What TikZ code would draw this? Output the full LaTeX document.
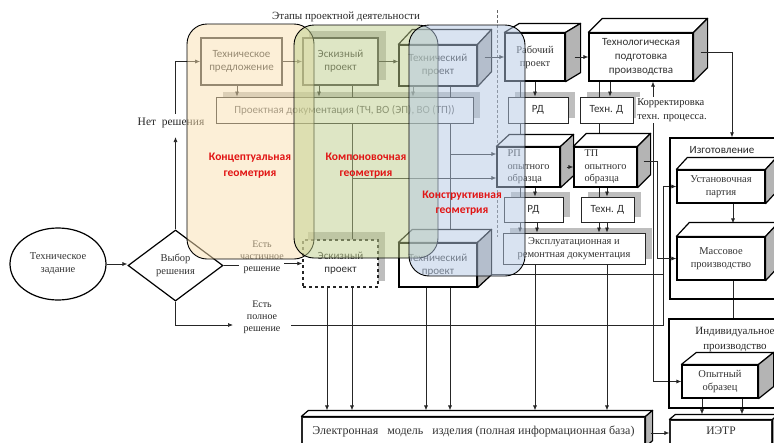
\documentclass[tikz,border=0pt]{standalone}
\usepackage{fontspec}
\setmainfont{Liberation Serif}
\newfontfamily\sansf{Carlito}
\usetikzlibrary{shapes.geometric,arrows.meta,calc}
\pgfdeclarelayer{shadowl}
\pgfdeclarelayer{bgl}
\pgfdeclarelayer{overl}
\pgfdeclarelayer{fgl}
\pgfsetlayers{shadowl,bgl,main,overl,fgl}
\definecolor{yel}{RGB}{250,224,176}
\definecolor{grn}{RGB}{190,206,140}
\definecolor{blu}{RGB}{180,200,228}
\definecolor{redt}{RGB}{225,20,20}
\definecolor{shd}{RGB}{190,190,190}
\definecolor{sidegray}{RGB}{180,180,180}
\tikzset{
  conn/.style={line width=0.7pt, draw=black!85},
  arr/.style={conn, -{Latex[length=5pt,width=4pt]}},
  darr/.style={conn, {Latex[length=5pt,width=4pt]}-{Latex[length=5pt,width=4pt]}},
  box/.style={draw=black!85, fill=white, line width=0.8pt, align=center, inner sep=1pt, text=black!80},
  thickbox/.style={box, line width=1.6pt, draw=black!80},
  cube/.style={box, line width=1.2pt, draw=black},
  outer/.style={draw=black, line width=1.4pt},
  wh/.style 2 args={minimum width=#1, minimum height=#2},
  sansT/.style={font=\sansf\fontsize{11}{13}\selectfont},
  serT/.style={font=\fontsize{10.5}{13}\selectfont},
  smallser/.style={font=\fontsize{10.3}{12.5}\selectfont},
  region/.style={draw=black, line width=0.9pt, rounded corners=20pt, fill opacity=0.5},
  redlab/.style={font=\sansf\bfseries\fontsize{11.5}{16}\selectfont, text=redt, align=center},
  lab/.style={font=\fontsize{10}{12}\selectfont, align=center, text=black!85},
}
\newcommand\mycuboid[3]{%
  \draw[line width=1.2pt, fill=white, line join=round] (#1.north west) -- ++(#2,#3) -- ([shift={(#2,#3)}]#1.north east) -- (#1.north east) -- cycle;
  \draw[line width=1.2pt, fill=sidegray, line join=round] (#1.north east) -- ([shift={(#2,#3)}]#1.north east) -- ([shift={(#2,#3)}]#1.south east) -- (#1.south east) -- cycle;}
\newcommand\myshadow[3]{\fill[shd] ([shift={(#2,#3)}]#1.south west) rectangle ([shift={(#2,#3)}]#1.north east);}
\begin{document}
\begin{tikzpicture}[x=1pt,y=-1pt]
\useasboundingbox (0,0) rectangle (774,442);

% ---------- nodes ----------
\node[font=\fontsize{11}{13}\selectfont, text=black!85] (title) at (346,17) {Этапы проектной деятельности};

\node[thickbox, wh={81}{47}, sansT] (tp) at (241.5,61.5) {Техническое\\предложение};
\node[thickbox, wh={75}{47}, sansT] (ep1) at (340.5,61.5) {Эскизный\\проект};
\node[cube, wh={78}{41}, sansT] (tpr1) at (438,65.5) {Технический\\проект};
\node[cube, wh={60}{48}, serT] (rp) at (535,57) {Рабочий\\проект};
\node[cube, wh={104}{48}, font=\sansf\fontsize{11}{14}\selectfont] (tech) at (641,57) {Технологическая\\подготовка\\производства};

\node[box, wh={257}{26}, sansT, text=black!65] (pd) at (344.5,110) {Проектная документация (ТЧ, ВО (ЭП), ВО (ТП))};
\node[box, wh={60}{26}, sansT] (rd1) at (538,110) {РД};
\node[box, wh={53}{26}, sansT] (td1) at (606.5,110) {Техн. Д};
\node[font=\fontsize{10.5}{14.5}\selectfont, align=left, fill=white, inner sep=1pt, text=black!85] (kor) at (672,110) {Корректировка\\техн. процесса.};

\node[cube, wh={63}{40}, smallser, align=left] (rpo) at (528.5,167) {РП\\опытного\\образца};
\node[cube, wh={63}{40}, smallser, align=left] (tpo) at (605.5,167) {ТП\\опытного\\образца};
\node[box, wh={59}{25}, sansT] (rd2) at (533.5,209.5) {РД};
\node[box, wh={53}{25}, sansT] (td2) at (607.5,209.5) {Техн. Д};
\node[box, wh={142}{31}, font=\fontsize{10.5}{12.5}\selectfont] (eks) at (574,248.5) {Эксплуатационная и\\ремонтная документация};

\node[box, wh={343}{29}, line width=1.2pt, font=\fontsize{12}{14}\selectfont] (elm) at (473.5,431.5) {\raisebox{3pt}{Электронная\ \ \ модель\ \ \ изделия (полная информационная база)}};
\node[box, wh={102}{26}, line width=1.2pt, font=\fontsize{11.5}{13}\selectfont] (ietr) at (721,433) {\raisebox{4pt}{ИЭТР}};

\node[outer, wh={110}{161}] (izg) at (725,218.5) {};
\node[sansT, text=black!85] (izgl) at (722,150) {Изготовление};
\node[cube, wh={88}{33}, serT] (ust) at (721,186.5) {Установочная\\партия};
\node[cube, wh={88}{43}, serT] (mass) at (721,258.5) {Массовое\\производство};
\node[outer, wh={110}{89}] (ind) at (724,363.5) {};
\node[font=\fontsize{11}{15.5}\selectfont, align=center, text=black!85] (indl) at (735,339.5) {Индивидуальное\\производство};
\node[cube, wh={76}{33}, serT] (opyt) at (720,381.5) {Опытный\\образец};

\node[ellipse, draw, line width=1.2pt, wh={96}{72}, inner sep=0pt, align=center, serT, text=black!80] (tz) at (58,264) {Техническое\\задание};
\node[diamond, draw, line width=1.2pt, wh={95}{71}, aspect=1.34, inner sep=0pt, align=center, serT, text=black!80] (vr) at (175.5,265.5) {Выбор\\решения};

\node[box, dashed, line width=1.5pt, wh={75}{47}, sansT] (ep2) at (340.5,263.5) {Эскизный\\проект};
\node[cube, wh={78}{44}, sansT] (tpr2) at (438,265) {Технический\\проект};

\node[lab, font=\fontsize{11.5}{13}\selectfont] (nr) at (171,123) {Нет\ \ решения};
\node[lab] (pr) at (262,257) {Есть\\частичное\\решение};
\node[lab] (fl) at (262,317) {Есть\\полное\\решение};

% cuboid faces
\mycuboid{tpr1}{14}{-15}
\mycuboid{rp}{15}{-9}
\mycuboid{tech}{14}{-14}
\mycuboid{rpo}{13}{-12}
\mycuboid{tpo}{13}{-13}
\mycuboid{ust}{11}{-12}
\mycuboid{mass}{13}{-14}
\mycuboid{opyt}{15}{-12}
\mycuboid{tpr2}{14}{-13}
\mycuboid{elm}{7}{-6}
\mycuboid{ietr}{6}{-5}

% ---------- coordinates ----------
\coordinate (x237) at (237,0);
\coordinate (x319) at (319,0);
\coordinate (x352) at (352,0);
\coordinate (x413) at (413,0);
\coordinate (x450) at (450,0);
\coordinate (x327) at (327,0);
\coordinate (x426) at (426,0);
\coordinate (x520) at (520,0);
\coordinate (x535) at (535,0);
\coordinate (x537) at (537,0);
\coordinate (x599) at (599,0);
\coordinate (x607) at (607,0);
\coordinate (x610) at (610,0);
\coordinate (x653) at (653,0);
\coordinate (x657) at (657,0);
\coordinate (x663) at (663,0);
\coordinate (x732) at (732,0);
\coordinate (x733) at (733,0);
\coordinate (x702) at (702,0);
\coordinate (x742) at (742,0);
\coordinate (y154) at (0,154);
\coordinate (y178) at (0,178);
\coordinate (y274) at (0,274);
\coordinate (y325) at (0,325);
\coordinate (nrlow) at (175.5,137);
\coordinate (nrhigh) at (175.5,114);
\coordinate (fA) at (233,325);
\coordinate (fB) at (291,325);
\coordinate (dashtop) at (497,10);
\coordinate (dashbot) at (497,237);

% ---------- shadows ----------
\begin{pgfonlayer}{shadowl}
\myshadow{ep1}{7}{-6}
\myshadow{ep2}{6}{-7}
\myshadow{pd}{7}{-5}
\myshadow{rd1}{7}{-5}
\myshadow{td1}{7}{-5}
\myshadow{rd2}{7}{-5}
\myshadow{td2}{7}{-5}
\myshadow{eks}{7}{-5}
\end{pgfonlayer}

% ---------- connectors ----------
\begin{pgfonlayer}{bgl}
\draw[densely dashed, black!60, line width=0.6pt] (dashtop) -- (dashbot);
\draw[arr] (tz.east) -- (tz.east -| vr.west);
\draw[arr] (vr.north) -- (nrlow);
\draw[arr] (nrhigh) |- (tp.west);
\draw[conn] (vr.east) -- ++(15,0);
\draw[arr] ([xshift=-18pt]ep2.west) -- (ep2.west);
\draw[arr] (vr.south) |- (fA);
\draw[arr] (fB) -- (fB -| x663) -- (x663 |- ust.west) -- (ust.west);
\draw[arr] (tp.east) -- (ep1.west);
\draw[arr] (ep1.east) -- (ep1.east -| tpr1.west);
\draw[arr] (tp.south -| x237) -- (pd.north -| x237);
\draw[arr] (ep1.south -| x319) -- (pd.north -| x319);
\draw[arr] (tpr1.south -| x413) -- (pd.north -| x413);
\draw[conn] (ep1.south -| x352) -- (ep2.north -| x352);
\draw[conn] (tpr1.south -| x450) -- ([yshift=13pt]tpr2.north -| x450);
\draw[arr] (x450 |- y154) -- (rpo.west |- y154);
\draw[arr] (x352 |- y178) -- (rpo.west |- y178);
\draw[arr] (rp.south -| x520) -- (eks.north -| x520);
\draw[arr] (rp.south -| x535) -- (rd1.north -| x535);
\draw[arr] (rpo.south -| x535) -- (rd2.north -| x535);
\draw[arr] (rd2.south -| x537) -- (eks.north -| x537);
\draw[arr] (tech.south -| x599) -- (eks.north -| x599);
\draw[arr] (tech.south -| x610) -- (td1.north -| x610);
\draw[arr] (tpo.south -| x607) -- (td2.north -| x607);
\draw[arr] (td2.south -| x607) -- (eks.north -| x607);
\draw[darr] (tech.south -| x653) -- (x653 |- opyt.west) -- (opyt.west);
\draw[conn] ([xshift=8pt]tpr2.east |- y274) -- (x663 |- y274);
\draw[arr] (ep2.south -| x327) -- ([yshift=6pt]elm.north -| x327);
\draw[arr] (ep2.south -| x352) -- ([yshift=6pt]elm.north -| x352);
\draw[arr] (tpr2.south -| x426) -- ([yshift=6pt]elm.north -| x426);
\draw[arr] (tpr2.south -| x450) -- ([yshift=6pt]elm.north -| x450);
\draw[arr] (eks.south -| x535) -- ([yshift=6pt]elm.north -| x535);
\draw[arr] (eks.south -| x607) -- ([yshift=6pt]elm.north -| x607);
\draw[arr] (ust.south -| x733) -- ([yshift=13pt]mass.north -| x733);
\draw[conn] (mass.south -| x733) -- (ind.north -| x733);
\draw[arr] (opyt.south -| x702) -- ([yshift=5pt]ietr.north -| x702);
\draw[arr] (opyt.south -| x742) -- ([yshift=5pt]ietr.north -| x742);
\end{pgfonlayer}

\begin{pgfonlayer}{overl}
\draw[arr] ([xshift=7pt]tpr1.east |- rp.west) -- (rp.west);
\draw[arr] ([xshift=9pt]rp.east) -- (rp.east -| tech.west);
\draw[arr] ([shift={(7,-5)}]tech.east) -| (x732 |- izg.north);
\draw[arr] ([shift={(6,-6)}]tpo.east) -| (x657 |- mass.west) -- (mass.west);
\draw[arr] ([xshift=6pt]rpo.east) -- (rpo.east -| tpo.west);
\draw[arr] ([xshift=5pt]elm.east |- ietr.west) -- (ietr.west);
\end{pgfonlayer}

% ---------- regions ----------
\begin{pgfonlayer}{fgl}
\draw[region, fill=yel] (187,24) rectangle (314,259);
\draw[region, fill=grn] (294,25) rectangle (438,258);
\draw[region, fill=blu] (409,25) rectangle (525,276);
\node[redlab] (r1) at (250,166) {Концептуальная\\геометрия};
\node[redlab] (r2) at (366,166) {Компоновочная\\геометрия};
\node[redlab, font=\sansf\bfseries\fontsize{11.5}{15}\selectfont] (r3) at (462,203.5) {Конструктивная\\геометрия};
\end{pgfonlayer}
\end{tikzpicture}
\end{document}
